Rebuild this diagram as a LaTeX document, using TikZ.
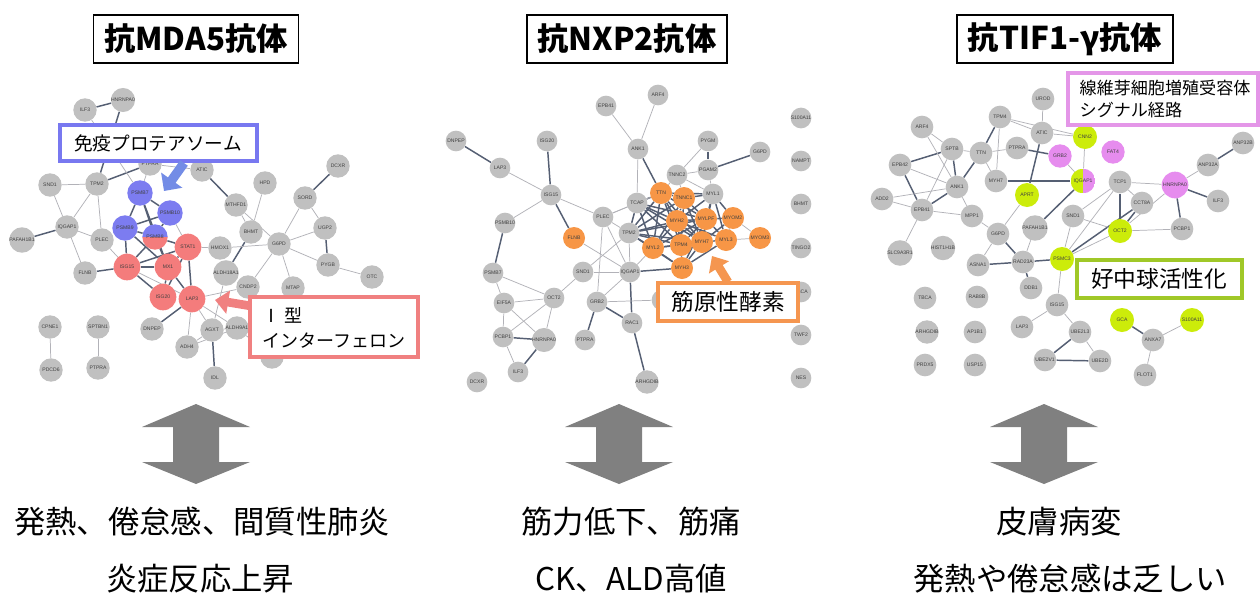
\documentclass[tikz,border=0pt]{standalone}
\usepackage{fontspec}
\newfontfamily\jp{Noto Sans CJK JP}
\newfontfamily\lab{Liberation Sans}
\usetikzlibrary{arrows.meta}
\definecolor{ngray}{RGB}{192,192,192}
\definecolor{cred}{RGB}{244,124,124}
\definecolor{cblue}{RGB}{124,124,240}
\definecolor{corange}{RGB}{247,150,70}
\definecolor{cgreen}{RGB}{204,236,10}
\definecolor{cpink}{RGB}{230,140,238}
\definecolor{bblue}{RGB}{120,120,240}
\definecolor{ablue}{RGB}{115,140,230}
\definecolor{bred}{RGB}{240,128,128}
\definecolor{borange}{RGB}{245,150,80}
\definecolor{bpink}{RGB}{228,150,232}
\definecolor{bgreen}{RGB}{160,200,40}
\definecolor{edark}{RGB}{85,95,115}
\definecolor{elight}{RGB}{178,178,184}
\definecolor{agray}{RGB}{128,128,128}
\pgfdeclarelayer{bg}
\pgfsetlayers{bg,main}
\tikzset{
  nd/.style={circle, inner sep=0pt, font={\lab\fontsize{3.8}{4}\selectfont}, text=black!75},
  gA/.style={nd, fill=ngray, minimum size=17.5pt},
  rA/.style={nd, fill=cred, minimum size=20pt},
  uA/.style={nd, fill=cblue, minimum size=19pt},
  gB/.style={nd, fill=ngray, minimum size=15.5pt},
  oB/.style={nd, fill=corange, minimum size=16.5pt},
  gC/.style={nd, fill=ngray, minimum size=17pt},
  yC/.style={nd, fill=cgreen, minimum size=18pt},
  pC/.style={nd, fill=cpink, minimum size=18.5pt},
  lt/.style={draw=elight, line width=0.55pt},
  dk/.style={draw=edark, line width=1.1pt},
  title/.style={draw=black, line width=1.2pt, fill=white, inner xsep=8pt, minimum height=36pt, font={\jp\bfseries\fontsize{23.5pt}{26pt}\selectfont}},
  callout/.style={line width=3pt, fill=white},
  bottomtext/.style={font={\jp\fontsize{23.5pt}{26pt}\selectfont}},
}
\begin{document}
\begin{tikzpicture}[x=0.75pt,y=-0.75pt]
\begin{pgfonlayer}{bg}
\fill[white] (0,0) rectangle (1260,600);
\end{pgfonlayer}
\useasboundingbox (0,0) rectangle (1260,600);

% ================= LEFT NETWORK =================
\node[gA] (aILF3) at (85,110) {ILF3};
\node[gA] (aHNRNPA0) at (123,100) {HNRNPA0};
\node[gA] (aTPRA) at (150,164) {PTPRA};
\node[gA] (aATIC) at (202,170) {ATIC};
\node[gA] (aSND1) at (50,185) {SND1};
\node[gA] (aTPM2) at (97,184) {TPM2};
\node[uA] (aPSMB7) at (140,193) {PSMB7};
\node[gA] (aHPD) at (265,183) {HPD};
\node[gA] (aDCXR) at (338,166) {DCXR};
\node[gA] (aSORD) at (305,198) {SORD};
\node[gA] (aMTHFD1) at (236,205) {MTHFD1};
\node[uA] (aPSMB10) at (170,213) {PSMB10};
\node[gA] (aIQGAP1) at (67,227) {IQGAP1};
\node[gA] (aPAFAH1B1) at (22,240) {PAFAH1B1};
\node[uA] (aPSMB9) at (125,228) {PSMB9};
\node[nd, minimum size=19pt, path picture={
  \fill[cblue] (path picture bounding box.west) rectangle (path picture bounding box.north east);
  \fill[cred] (path picture bounding box.west) rectangle (path picture bounding box.south east);}] (aPSMB8) at (155,237) {PSMB8};
\node[gA] (aPLEC) at (102,240) {PLEC};
\node[gA] (aBHMT) at (251,232) {BHMT};
\node[gA] (aUGP2) at (325,228) {UGP2};
\node[rA] (aSTAT1) at (188,247) {STAT1};
\node[gA] (aHMOX1) at (220,248) {HMOX1};
\node[gA] (aG6PD) at (279,244) {G6PD};
\node[rA] (aISG15) at (127,267) {ISG15};
\node[rA] (aMX1) at (168,267) {MX1};
\node[gA] (aFLNB) at (85,273) {FLNB};
\node[gA] (aPYGB) at (328,265) {PYGB};
\node[gA] (aOTC) at (372,277) {OTC};
\node[gA] (aALDH18A1) at (226,273) {ALDH18A1};
\node[gA] (aCNDP2) at (248,287) {CNDP2};
\node[gA] (aMTAP) at (293,288) {MTAP};
\node[rA] (aISG20) at (163,297) {ISG20};
\node[rA] (aLAP3) at (192,299) {LAP3};
\node[gA] (aCPNE1) at (50,327) {CPNE1};
\node[gA] (aSPTBN1) at (98,327) {SPTBN1};
\node[gA] (aDNPEP) at (152,329) {DNPEP};
\node[gA] (aAGXT) at (212,330) {AGXT};
\node[gA] (aALDH9A1) at (237,328) {ALDH9A1};
\node[gA] (aADH4) at (187,347) {ADH4};
\node[gA] (aNAMPT) at (272,357) {NAMPT};
\node[gA] (aPDCD6) at (51,370) {PDCD6};
\node[gA] (aPTPRA) at (98,368) {PTPRA};
\node[gA] (aIDL) at (215,378) {IDL};

\begin{pgfonlayer}{bg}
\foreach \a/\b in {aILF3/aHNRNPA0, aHNRNPA0/aTPM2, aTPRA/aTPM2, aATIC/aMTHFD1, aBHMT/aALDH18A1,
  aIQGAP1/aPAFAH1B1, aFLNB/aISG15, aPSMB7/aPSMB10, aPSMB7/aPSMB9, aPSMB7/aPSMB8, aPSMB10/aPSMB9,
  aPSMB10/aPSMB8, aPSMB9/aPSMB8, aPSMB9/aISG15, aPSMB8/aISG15, aPSMB8/aMX1, aPSMB8/aSTAT1,
  aPSMB7/aMX1, aPSMB9/aMX1, aISG15/aSTAT1, aISG15/aMX1, aISG15/aISG20, aMX1/aSTAT1, aMX1/aISG20,
  aSTAT1/aLAP3, aMX1/aLAP3, aSTAT1/aISG20, aSORD/aDCXR, aUGP2/aPYGB, aLAP3/aDNPEP, aAGXT/aIDL}
  \draw[dk] (\a) -- (\b);
\foreach \a/\b in {aILF3/aPSMB7, aTPRA/aATIC, aTPRA/aPSMB7, aHPD/aBHMT, aMTHFD1/aBHMT, aMTHFD1/aG6PD,
  aSND1/aTPM2, aSND1/aIQGAP1, aTPM2/aIQGAP1, aTPM2/aPLEC, aIQGAP1/aPLEC, aIQGAP1/aFLNB, aPLEC/aISG15,
  aPSMB10/aSTAT1, aISG15/aLAP3, aSTAT1/aHMOX1, aHMOX1/aG6PD, aG6PD/aSORD, aG6PD/aUGP2, aG6PD/aMTAP,
  aG6PD/aPYGB, aG6PD/aCNDP2, aSORD/aUGP2, aPYGB/aOTC, aLAP3/aCNDP2, aLAP3/aADH4, aLAP3/aAGXT,
  aLAP3/aALDH9A1, aALDH18A1/aAGXT, aAGXT/aADH4, aAGXT/aALDH9A1, aADH4/aALDH9A1, aALDH9A1/aNAMPT,
  aCPNE1/aPDCD6, aSPTBN1/aPTPRA}
  \draw[lt] (\a) -- (\b);
\end{pgfonlayer}

% ================= MIDDLE NETWORK =================
\node[gB] (bEPB41) at (606,106) {EPB41};
\node[gB] (bARF4) at (658,95) {ARF4};
\node[gB] (bS100A11) at (801,118) {S100A11};
\node[gB] (bDNPEP) at (456,141) {DNPEP};
\node[gB] (bISG20) at (547,141) {ISG20};
\node[gB] (bPYGM) at (708,141) {PYGM};
\node[gB] (bANK1) at (638,149) {ANK1};
\node[gB] (bG6PD) at (760,152) {G6PD};
\node[gB] (bNAMPT) at (801,161) {NAMPT};
\node[gB] (bLAP3) at (500,168) {LAP3};
\node[gB] (bTNNC2) at (677,175) {TNNC2};
\node[gB] (bPGAM2) at (708,170) {PGAM2};
\node[gB] (bISG15) at (551,195) {ISG15};
\node[oB] (bTTN) at (661,193) {TTN};
\node[oB] (bTNNC1) at (684,198) {TNNC1};
\node[gB] (bMYL1) at (713,194) {MYL1};
\node[gB] (bTCAP) at (637,203) {TCAP};
\node[gB] (bBHMT) at (801,204) {BHMT};
\node[gB] (bPLEC) at (603,217) {PLEC};
\node[oB] (bMYH2) at (677,221) {MYH2};
\node[oB] (bMYLPF) at (706,219) {MYLPF};
\node[oB] (bMYOM2) at (733,218) {MYOM2};
\node[gB] (bPSMB10) at (505,223) {PSMB10};
\node[gB] (bTPM2) at (629,233) {TPM2};
\node[oB] (bFLNB) at (574,238) {FLNB};
\node[oB] (bMYOM3) at (760,238) {MYOM3};
\node[oB] (bMYL2) at (653,248) {MYL2};
\node[oB] (bTPM4) at (681,245) {TPM4};
\node[oB] (bMYH7) at (702,242) {MYH7};
\node[oB] (bMYL3) at (726,240) {MYL3};
\node[oB] (bMYH3) at (682,268) {MYH3};
\node[gB] (bTINGO2) at (801,248) {TINGO2};
\node[gB] (bPSMB7) at (493,273) {PSMB7};
\node[gB] (bSND1) at (583,272) {SND1};
\node[gB] (bIQGAP1) at (630,272) {IQGAP1};
\node[gB] (bEIF5A) at (504,303) {EIF5A};
\node[gB] (bCCT2) at (554,298) {OCT2};
\node[gB] (bGRB2) at (597,302) {GRB2};
\node[gB] (bATIC) at (662,300) {ATIC};
\node[gB] (bTBCA) at (801,292) {TBCA};
\node[gB] (bRAC1) at (632,323) {RAC1};
\node[gB] (bPCBP1) at (503,337) {PCBP1};
\node[gB] (bHNRNPA0) at (544,340) {HNRNPA0};
\node[gB] (bPTPRA) at (585,340) {PTPRA};
\node[gB] (bTWF2) at (801,335) {TWF2};
\node[gB] (bILF3) at (518,372) {ILF3};
\node[gB] (bDCXR) at (477,382) {DCXR};
\node[gB] (bARHGDIB) at (647,382) {ARHGDIB};
\node[gB] (bNES) at (801,378) {NES};

\begin{pgfonlayer}{bg}
\foreach \a/\b in {bDNPEP/bLAP3, bISG20/bISG15, bISG15/bFLNB, bPSMB10/bPSMB7, bPCBP1/bHNRNPA0,
  bILF3/bHNRNPA0, bANK1/bTTN, bPYGM/bPGAM2, bPGAM2/bG6PD,
  bTTN/bTNNC1, bTTN/bMYH2, bTTN/bTCAP, bTTN/bTPM2, bTTN/bMYL2, bTTN/bTPM4, bTTN/bMYH7, bTTN/bMYLPF,
  bTNNC1/bMYH2, bTNNC1/bMYLPF, bTNNC1/bMYL1, bTNNC1/bTPM4, bTNNC1/bMYH7, bTNNC1/bTPM2, bTNNC1/bMYL2,
  bMYL1/bMYLPF, bMYL1/bMYH2, bMYL1/bMYOM2, bMYL1/bMYL3, bMYL1/bMYH7, bMYH2/bMYLPF, bMYH2/bTPM4,
  bMYH2/bMYL2, bMYH2/bMYH7, bMYH2/bTPM2, bMYH2/bMYL3, bMYH2/bTCAP, bMYLPF/bMYOM2, bMYLPF/bMYH7,
  bMYLPF/bMYL3, bMYLPF/bTPM4, bMYOM2/bMYL3, bMYOM2/bMYH7, bTPM2/bMYL2, bTPM2/bTPM4, bTPM2/bMYH7,
  bTPM2/bTCAP, bMYL2/bTPM4, bTPM4/bMYH7, bMYH7/bMYL3, bMYL2/bMYH3, bTPM4/bMYH3, bMYH7/bMYH3,
  bMYL3/bMYH3, bMYLPF/bMYH3, bTCAP/bMYH7, bTCAP/bTPM4, bTCAP/bMYLPF, bTCAP/bMYL2, bTPM2/bMYLPF,
  bTTN/bMYL1, bMYL2/bMYLPF, bMYL2/bMYH7, bTPM2/bMYH3,
  bIQGAP1/bMYH3, bIQGAP1/bRAC1, bGRB2/bRAC1, bGRB2/bPTPRA, bRAC1/bARHGDIB}
  \draw[dk] (\a) -- (\b);
\foreach \a/\b in {bLAP3/bISG15, bISG15/bPSMB10, bISG15/bPLEC, bPSMB7/bEIF5A, bPSMB7/bCCT2,
  bEIF5A/bCCT2, bEIF5A/bPCBP1, bEIF5A/bHNRNPA0, bPCBP1/bILF3, bCCT2/bHNRNPA0, bCCT2/bSND1,
  bCCT2/bPCBP1, bSND1/bIQGAP1, bSND1/bTPM2, bFLNB/bIQGAP1, bPLEC/bTCAP, bPLEC/bIQGAP1, bPLEC/bGRB2,
  bPLEC/bTPM2, bANK1/bEPB41, bANK1/bARF4, bANK1/bTCAP, bPYGM/bTNNC2, bPGAM2/bTNNC2, bPGAM2/bMYL1,
  bTNNC2/bTTN, bTNNC2/bTNNC1, bTNNC2/bMYL1, bMYL3/bMYOM3, bMYOM2/bMYOM3, bIQGAP1/bGRB2, bGRB2/bATIC,
  bIQGAP1/bTPM2, bIQGAP1/bMYL2, bPLEC/bTTN}
  \draw[lt] (\a) -- (\b);
\end{pgfonlayer}

% ================= RIGHT NETWORK =================
\node[gC] (cUROD) at (1043,99) {UROD};
\node[gC] (cTPM4) at (1000,117) {TPM4};
\node[gC] (cARF4) at (922,127) {ARF4};
\node[gC] (cATIC) at (1042,133) {ATIC};
\node[yC] (cCNN2) at (1085,137) {CNN2};
\node[gC] (cSPTB) at (952,149) {SPTB};
\node[gC] (cTTN) at (981,153) {TTN};
\node[gC] (cPTPRA) at (1017,148) {PTPRA};
\node[pC, minimum size=17.5pt] (cGRB2) at (1060,156) {GRB2};
\node[pC, minimum size=17.5pt] (cFAT4) at (1113,152) {FAT4};
\node[gC] (cANP32B) at (1243,143) {ANP32B};
\node[gC] (cEPB42) at (900,165) {EPB42};
\node[gC] (cANP32A) at (1208,165) {ANP32A};
\node[gC] (cANK1) at (957,187) {ANK1};
\node[gC] (cMYH7) at (996,181) {MYH7};
\node[nd, minimum size=18.5pt, path picture={
  \fill[cgreen] (path picture bounding box.south) rectangle (path picture bounding box.north west);
  \fill[cpink] (path picture bounding box.south) rectangle (path picture bounding box.north east);}] (cIQGAP1) at (1083,181) {IQGAP1};
\node[gC] (cTCP1) at (1120,182) {TCP1};
\node[pC, minimum size=20pt] (cHNRNPA0) at (1175,185) {HNRNPA0};
\node[gC] (cADD2) at (882,199) {ADD2};
\node[yC] (cAPRT) at (1027,195) {APRT};
\node[gC] (cILF3) at (1218,201) {ILF3};
\node[gC] (cEPB41) at (922,210) {EPB41};
\node[gC] (cCCT8A) at (1142,203) {CCT8A};
\node[gC] (cMPP1) at (972,216) {MPP1};
\node[gC] (cSND1) at (1073,216) {SND1};
\node[gC] (cPAFAH1B1) at (1035,228) {PAFAH1B1};
\node[yC] (cCCT2) at (1120,231) {OCT2};
\node[gC] (cPCBP1) at (1182,229) {PCBP1};
\node[gC] (cG6PD) at (998,234) {G6PD};
\node[gC] (cSLC9A3R1) at (900,253) {SLC9A3R1};
\node[gC] (cHIST1H1B) at (943,248) {HIST1H1B};
\node[gC] (cASNA1) at (978,265) {ASNA1};
\node[gC] (cRAD23A) at (1023,262) {RAD23A};
\node[yC] (cPSMC3) at (1062,259) {PSMC3};
\node[gC] (cDDB1) at (1031,288) {DDB1};
\node[gC] (cTBCA) at (925,298) {TBCA};
\node[gC] (cRAB8B) at (977,297) {RAB8B};
\node[gC] (cISG15) at (1057,305) {ISG15};
\node[yC] (cGCA) at (1122,320) {GCA};
\node[yC] (cS100A11) at (1192,320) {S100A11};
\node[gC] (cLAP3) at (1022,327) {LAP3};
\node[gC] (cARHGDIB) at (927,332) {ARHGDIB};
\node[gC] (cAP1B1) at (975,332) {AP1B1};
\node[gC] (cUBE2L3) at (1080,332) {UBE2L3};
\node[gC] (cANXA7) at (1153,340) {ANXA7};
\node[gC] (cPRDX5) at (925,365) {PRDX5};
\node[gC] (cUSP15) at (975,365) {USP15};
\node[gC] (cUBE2V1) at (1045,360) {UBE2V1};
\node[gC] (cUBE2D) at (1100,361) {UBE2D};
\node[gC] (cFLOT1) at (1145,375) {FLOT1};

\begin{pgfonlayer}{bg}
\foreach \a/\b in {cTPM4/cTTN, cATIC/cAPRT, cSPTB/cEPB42, cSPTB/cANK1, cTTN/cANK1, cPTPRA/cGRB2,
  cEPB42/cEPB41, cANK1/cEPB41, cMYH7/cIQGAP1, cIQGAP1/cPAFAH1B1, cTCP1/cCCT2, cCCT8A/cCCT2,
  cCCT8A/cPSMC3, cHNRNPA0/cILF3, cHNRNPA0/cPCBP1, cANP32A/cANP32B, cPSMC3/cRAD23A, cRAD23A/cASNA1,
  cRAD23A/cDDB1, cRAD23A/cG6PD, cUBE2L3/cUBE2V1, cUBE2V1/cUBE2D, cGCA/cANXA7}
  \draw[dk] (\a) -- (\b);
\foreach \a/\b in {cUROD/cATIC, cTPM4/cATIC, cTPM4/cCNN2, cTPM4/cMYH7, cATIC/cCNN2, cARF4/cSPTB,
  cARF4/cANK1, cSPTB/cTTN, cSPTB/cEPB41, cTTN/cPTPRA, cTTN/cMYH7, cGRB2/cIQGAP1, cCNN2/cIQGAP1,
  cEPB42/cANK1, cADD2/cANK1, cADD2/cEPB41, cANK1/cMPP1, cEPB41/cMPP1, cEPB41/cSLC9A3R1,
  cMPP1/cG6PD, cAPRT/cG6PD, cTCP1/cCCT8A, cTCP1/cSND1, cTCP1/cPSMC3, cTCP1/cHNRNPA0,
  cHNRNPA0/cCCT2, cHNRNPA0/cANP32A, cCCT2/cPCBP1, cSND1/cCCT2, cPSMC3/cCCT2, cSND1/cPSMC3,
  cASNA1/cG6PD, cRAD23A/cPAFAH1B1, cPSMC3/cISG15, cISG15/cLAP3, cISG15/cUBE2L3, cUBE2L3/cUBE2D,
  cS100A11/cANXA7, cANXA7/cFLOT1}
  \draw[lt] (\a) -- (\b);
\end{pgfonlayer}

% ================= CALLOUT BOXES =================
% blue
\draw[callout, draw=bblue] (60,125) rectangle (257,161);
\node[font={\jp\fontsize{14pt}{16pt}\selectfont}] (tBlue) at (158,143) {免疫プロテアソーム};
\coordinate (ab1) at (184,163);
\coordinate (ab2) at (164,191);
\draw[ablue, line width=7pt, -{Triangle[width=19pt,length=10pt]}] (ab1) -- (ab2);
% red
\draw[callout, draw=bred] (250,297) rectangle (418,357);
\node[font={\jp\fontsize{13.5pt}{19pt}\selectfont}, align=left, anchor=west] (tRed) at (258,328) {Ⅰ 型\\インターフェロン};
\coordinate (ar1) at (251,306);
\coordinate (ar2) at (215,300);
\draw[bred, line width=6.5pt, -{Triangle[width=17pt,length=10pt]}] (ar1) -- (ar2);
% orange
\draw[callout, draw=borange] (658,283) rectangle (798,321);
\node[font={\jp\fontsize{17pt}{19pt}\selectfont}] (tOrange) at (728,302) {筋原性酵素};
\coordinate (ao1) at (728,282);
\coordinate (ao2) at (712,256);
\draw[borange, line width=6.5pt, -{Triangle[width=17pt,length=10pt]}] (ao1) -- (ao2);
% pink
\draw[callout, draw=bpink] (1068,73) rectangle (1258,125);
\node[font={\jp\fontsize{12.8pt}{16pt}\selectfont}, align=left, anchor=west] (tPink) at (1075,99) {線維芽細胞増殖受容体\\シグナル経路};
% green
\draw[callout, draw=bgreen] (1077,260) rectangle (1242,298);
\node[font={\jp\fontsize{17pt}{19pt}\selectfont}] (tGreen) at (1159,279) {好中球活性化};

% ================= TITLES =================
\node[title] (t1) at (196,39) {抗MDA5抗体};
\node[title] (t2) at (627,39) {抗NXP2抗体};
\node[title] (t3) at (1065,39) {抗TIF1-γ抗体};

% ================= DOUBLE ARROWS =================
\foreach \cx in {196,619,1044}
  \fill[agray] (\cx,404) -- ({\cx+54},427) -- ({\cx+23},427) -- ({\cx+23},462) -- ({\cx+54},462)
    -- (\cx,484) -- ({\cx-54},462) -- ({\cx-23},462) -- ({\cx-23},427) -- ({\cx-54},427) -- cycle;

% ================= BOTTOM TEXT =================
\node[bottomtext] (s1a) at (202,522) {発熱、倦怠感、間質性肺炎};
\node[bottomtext] (s1b) at (200,579) {炎症反応上昇};
\node[bottomtext] (s2a) at (631,522) {筋力低下、筋痛};
\node[bottomtext] (s2b) at (631,579) {CK、ALD高値};
\node[bottomtext] (s3a) at (1059,522) {皮膚病変};
\node[bottomtext] (s3b) at (1070,579) {発熱や倦怠感は乏しい};
\end{tikzpicture}
\end{document}
